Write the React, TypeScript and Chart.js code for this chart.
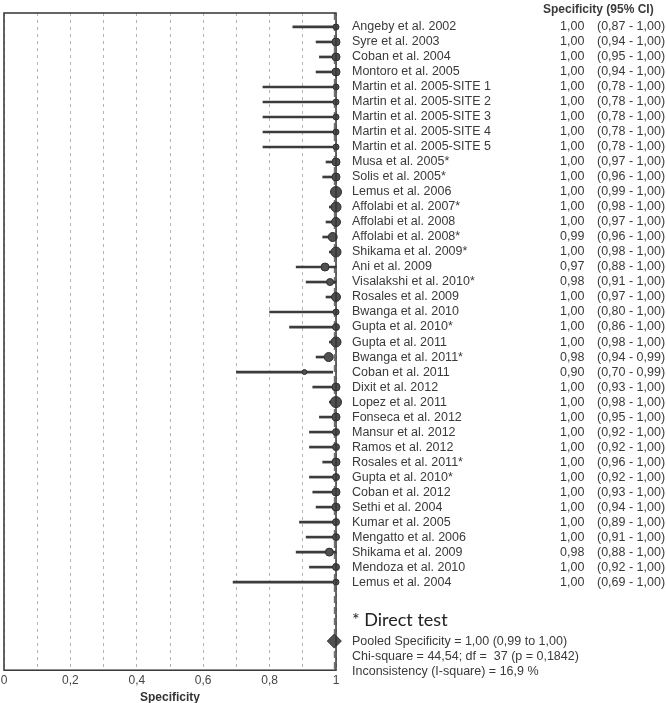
import React, { useEffect, useRef } from "react";
import { Chart, registerables } from "chart.js";

Chart.register(...registerables);

const studies = [
  "Angeby et al. 2002",
  "Syre et al. 2003",
  "Coban et al. 2004",
  "Montoro et al. 2005",
  "Martin et al. 2005-SITE 1",
  "Martin et al. 2005-SITE 2",
  "Martin et al. 2005-SITE 3",
  "Martin et al. 2005-SITE 4",
  "Martin et al. 2005-SITE 5",
  "Musa et al. 2005*",
  "Solis et al. 2005*",
  "Lemus et al. 2006",
  "Affolabi et al. 2007*",
  "Affolabi et al. 2008",
  "Affolabi et al. 2008*",
  "Shikama et al. 2009*",
  "Ani et al. 2009",
  "Visalakshi et al. 2010*",
  "Rosales et al. 2009",
  "Bwanga et al. 2010",
  "Gupta et al. 2010*",
  "Gupta et al. 2011",
  "Bwanga et al. 2011*",
  "Coban et al. 2011",
  "Dixit et al. 2012",
  "Lopez et al. 2011",
  "Fonseca et al. 2012",
  "Mansur et al. 2012",
  "Ramos et al. 2012",
  "Rosales et al. 2011*",
  "Gupta et al. 2010*",
  "Coban et al. 2012",
  "Sethi et al. 2004",
  "Kumar et al. 2005",
  "Mengatto et al. 2006",
  "Shikama et al. 2009",
  "Mendoza et al. 2010",
  "Lemus et al. 2004",
];

const estimates = [
  1.0, 1.0, 1.0, 1.0, 1.0, 1.0, 1.0, 1.0, 1.0, 1.0, 1.0, 1.0, 1.0, 1.0, 0.99,
  1.0, 0.967, 0.982, 1.0, 1.0, 1.0, 1.0, 0.978, 0.905, 1.0, 1.0, 1.0, 1.0, 1.0,
  1.0, 1.0, 1.0, 1.0, 1.0, 1.0, 0.98, 1.0, 1.0,
];

const lowers = [
  0.87, 0.94, 0.95, 0.94, 0.78, 0.78, 0.78, 0.78, 0.78, 0.97, 0.96, 0.99, 0.98,
  0.97, 0.96, 0.98, 0.88, 0.91, 0.97, 0.8, 0.86, 0.98, 0.94, 0.7, 0.93, 0.98,
  0.95, 0.92, 0.92, 0.96, 0.92, 0.93, 0.94, 0.89, 0.91, 0.88, 0.92, 0.69,
];

const uppers = [
  1.0, 1.0, 1.0, 1.0, 1.0, 1.0, 1.0, 1.0, 1.0, 1.0, 1.0, 1.0, 1.0, 1.0, 1.0,
  1.0, 1.0, 1.0, 1.0, 1.0, 1.0, 1.0, 0.99, 0.99, 1.0, 1.0, 1.0, 1.0, 1.0, 1.0,
  1.0, 1.0, 1.0, 1.0, 1.0, 1.0, 1.0, 1.0,
];

const estimateLabels = [
  "1,00", "1,00", "1,00", "1,00", "1,00", "1,00", "1,00", "1,00", "1,00",
  "1,00", "1,00", "1,00", "1,00", "1,00", "0,99", "1,00", "0,97", "0,98",
  "1,00", "1,00", "1,00", "1,00", "0,98", "0,90", "1,00", "1,00", "1,00",
  "1,00", "1,00", "1,00", "1,00", "1,00", "1,00", "1,00", "1,00", "0,98",
  "1,00", "1,00",
];

const ciLabels = [
  "(0,87 - 1,00)", "(0,94 - 1,00)", "(0,95 - 1,00)", "(0,94 - 1,00)",
  "(0,78 - 1,00)", "(0,78 - 1,00)", "(0,78 - 1,00)", "(0,78 - 1,00)",
  "(0,78 - 1,00)", "(0,97 - 1,00)", "(0,96 - 1,00)", "(0,99 - 1,00)",
  "(0,98 - 1,00)", "(0,97 - 1,00)", "(0,96 - 1,00)", "(0,98 - 1,00)",
  "(0,88 - 1,00)", "(0,91 - 1,00)", "(0,97 - 1,00)", "(0,80 - 1,00)",
  "(0,86 - 1,00)", "(0,98 - 1,00)", "(0,94 - 0,99)", "(0,70 - 0,99)",
  "(0,93 - 1,00)", "(0,98 - 1,00)", "(0,95 - 1,00)", "(0,92 - 1,00)",
  "(0,92 - 1,00)", "(0,96 - 1,00)", "(0,92 - 1,00)", "(0,93 - 1,00)",
  "(0,94 - 1,00)", "(0,89 - 1,00)", "(0,91 - 1,00)", "(0,88 - 1,00)",
  "(0,92 - 1,00)", "(0,69 - 1,00)",
];

// marker radius (study weight)
const weights = [
  3, 4, 4, 4, 3, 3, 3, 3, 3, 4, 4, 5.5, 5, 4.5, 4.5, 5, 4, 3.5, 4.5, 3, 3.5, 5,
  4.5, 2.5, 4, 5.5, 4, 3.5, 3.5, 4, 3.5, 4, 4, 3.5, 3.5, 4, 3.5, 3,
];

const xTicks = [0, 0.2, 0.4, 0.6, 0.8, 1];
const xTickLabels = ["0", "0,2", "0,4", "0,6", "0,8", "1"];

const pooledEstimate = 0.995;
const pooledRow = 40.93;
const noteRow = 39.55;
const statRows = [40.93, 41.97, 42.97];
const statLines = [
  "Pooled Specificity = 1,00 (0,99 to 1,00)",
  "Chi-square = 44,54; df =  37 (p = 0,1842)",
  "Inconsistency (I-square) = 16,9 %",
];
const noteText = "* Direct test";
const headerText = "Specificity (95% CI)";
const axisTitle = "Specificity";

const yMin = -0.93;
const yMax = 42.87;

// canvas is shifted 4px left of the page edge
const SHIFT = 4;

const textPlugin = {
  id: "forestText",
  afterDraw(chart: any) {
    const { ctx, chartArea, scales } = chart;
    const y = scales.y;
    ctx.save();
    ctx.strokeStyle = "#333";
    ctx.lineWidth = 1.5;
    ctx.strokeRect(
      chartArea.left,
      chartArea.top,
      chartArea.right - chartArea.left,
      chartArea.bottom - chartArea.top
    );
    ctx.fillStyle = "#3a3a3a";
    ctx.textBaseline = "middle";
    ctx.textAlign = "left";
    ctx.font = "12.5px 'Liberation Sans', Arial, sans-serif";
    studies.forEach((s, i) => {
      const py = y.getPixelForValue(i);
      ctx.fillText(s, 352 + SHIFT, py);
      ctx.fillText(estimateLabels[i], 560 + SHIFT, py);
      ctx.fillText(ciLabels[i], 597 + SHIFT, py);
    });
    statLines.forEach((s, i) => {
      ctx.fillText(s, 352 + SHIFT, y.getPixelForValue(statRows[i]));
    });
    ctx.font = "bold 12px 'Liberation Sans', Arial, sans-serif";
    ctx.fillText(headerText, 543 + SHIFT, y.getPixelForValue(-1.13));
    ctx.font = "18px Lato, 'Open Sans', sans-serif";
    ctx.fillStyle = "#222";
    ctx.fillText(noteText, 352 + SHIFT, y.getPixelForValue(noteRow));
    ctx.restore();
  },
};

export default function App() {
  const ref = useRef<HTMLCanvasElement>(null);

  useEffect(() => {
    if (!ref.current) return;
    const chart = new Chart(ref.current, {
      type: "scatter",
      data: {
        datasets: [
          {
            type: "bar",
            indexAxis: "y",
            data: studies.map((_, i) => ({ y: i, x: [lowers[i], uppers[i]] })),
            backgroundColor: "#3c3c3c",
            borderWidth: 0,
            barThickness: 2,
            clip: false,
            order: 3,
          } as any,
          {
            type: "line",
            data: [
              { x: pooledEstimate, y: yMin },
              { x: pooledEstimate, y: yMax },
            ],
            borderColor: "#555",
            borderWidth: 1,
            borderDash: [7, 4],
            pointRadius: 0,
            clip: false,
            order: 4,
          } as any,
          {
            type: "scatter",
            data: studies.map((_, i) => ({ x: estimates[i], y: i })),
            pointRadius: weights,
            pointHoverRadius: weights,
            backgroundColor: "#505050",
            borderColor: "#2e2e2e",
            borderWidth: 1,
            clip: false,
            order: 1,
          } as any,
          {
            type: "scatter",
            data: [{ x: pooledEstimate, y: pooledRow }],
            pointStyle: "rectRot",
            pointRadius: 7,
            backgroundColor: "#505050",
            borderColor: "#2e2e2e",
            borderWidth: 1,
            clip: false,
            order: 0,
          } as any,
        ],
      },
      options: {
        animation: false,
        responsive: true,
        maintainAspectRatio: false,
        layout: { padding: { left: 0, right: 330, top: 13, bottom: -2 } },
        plugins: {
          legend: { display: false },
          tooltip: { enabled: false },
        },
        scales: {
          x: {
            type: "linear",
            min: 0,
            max: 1,
            afterBuildTicks: (scale: any) => {
              const t: any[] = [];
              for (let k = 0; k <= 10; k++) t.push({ value: k / 10 });
              scale.ticks = t;
            },
            ticks: {
              color: "#444",
              font: { family: "'Liberation Sans', Arial, sans-serif", size: 12 },
              padding: 3,
              maxRotation: 0,
              autoSkip: false,
              callback: (v: any) => {
                const idx = xTicks.findIndex((t) => Math.abs(t - Number(v)) < 1e-6);
                return idx >= 0 ? xTickLabels[idx] : "";
              },
            },
            grid: {
              color: "#b5b5b5",
              lineWidth: 1,
              drawTicks: false,
            },
            border: { display: false, dash: [3, 4] },
            title: {
              display: true,
              text: axisTitle,
              color: "#333",
              font: {
                family: "'Liberation Sans', Arial, sans-serif",
                size: 12,
                weight: "bold",
              },
              padding: { top: 0, bottom: 0 },
            },
          },
          y: {
            type: "linear",
            reverse: true,
            offset: false,
            min: yMin,
            max: yMax,
            display: false,
            grid: { offset: false },
          },
        },
      },
      plugins: [textPlugin],
    } as any);
    return () => chart.destroy();
  }, []);

  return (
    <div
      style={{
        position: "absolute",
        left: -SHIFT,
        top: 0,
        width: 666 + SHIFT,
        height: 703,
        background: "#fff",
        overflow: "hidden",
      }}
    >
      <canvas ref={ref} />
    </div>
  );
}
